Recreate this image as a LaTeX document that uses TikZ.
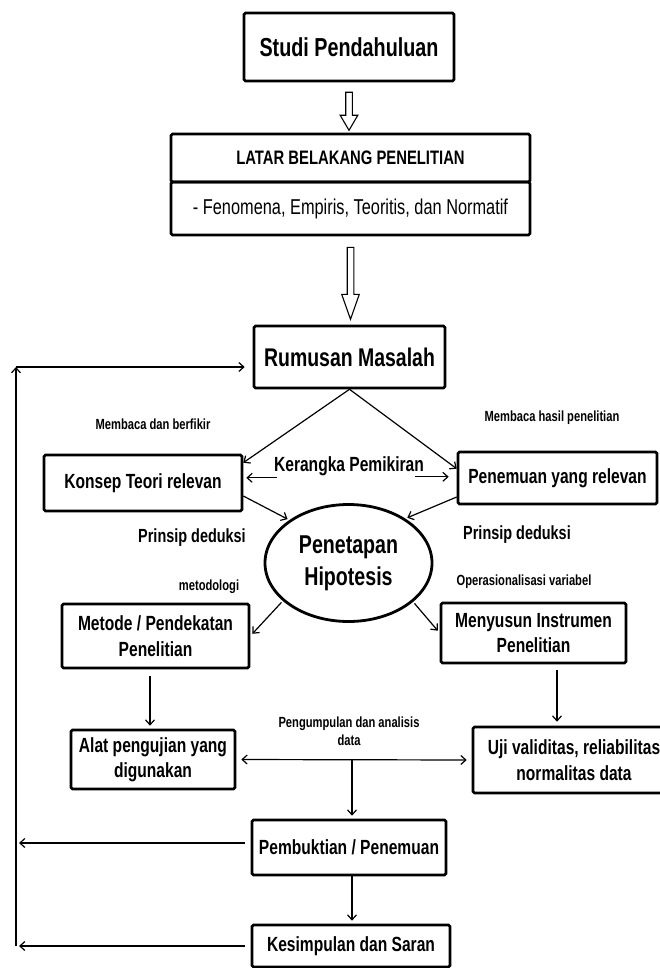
\documentclass[tikz,border=0pt]{standalone}
\usepackage{fontspec}
\newfontfamily\cf{Liberation Sans}[FakeStretch=0.76]
\usetikzlibrary{arrows.meta,shapes.geometric,calc}
\begin{document}
\begin{tikzpicture}[x=1pt,y=-1pt,
 box/.style={draw,line width=2.6pt,rounded corners=1.5pt,inner sep=0pt,align=center,font=\cf\bfseries\fontsize{20.5}{25.5}\selectfont},
 lbl/.style={inner sep=0pt,align=center,font=\cf\bfseries\fontsize{14.7}{18}\selectfont},
 arr/.style={line width=1.2pt,-{Straight Barb[length=5pt,width=9pt]}},
 hollow/.style={line width=1.1pt,fill=white,line join=miter}]
\useasboundingbox (0,0) rectangle (660,968);

% boxes
\node[box,minimum width=210pt,minimum height=68pt,font=\cf\bfseries\fontsize{26}{28}\selectfont] (studi) at (349,47) {Studi Pendahuluan};
\node[box,minimum width=359pt,minimum height=48pt,font=\cf\bfseries\fontsize{19.5}{22}\selectfont] (latar) at (350.5,158) {LATAR BELAKANG PENELITIAN};
\node[box,minimum width=359pt,minimum height=53pt,font=\cf\fontsize{21.5}{24}\selectfont] (feno) at (350.5,208.5) {- Fenomena, Empiris, Teoritis, dan Normatif};
\node[box,minimum width=191pt,minimum height=62pt,font=\cf\bfseries\fontsize{25.6}{28}\selectfont] (rum) at (349.5,357) {Rumusan Masalah};
\node[box,minimum width=198pt,minimum height=56pt] (konsep) at (143,483) {Konsep Teori relevan};
\node[box,minimum width=199pt,minimum height=52pt] (pen) at (557.5,478) {Penemuan yang relevan};
\node[inner sep=0pt,font=\cf\bfseries\fontsize{20.5}{22}\selectfont] (ker) at (349,466) {Kerangka Pemikiran};
\node[ellipse,draw,line width=2.8pt,minimum width=167pt,minimum height=117pt,inner sep=0pt,align=center,font=\cf\bfseries\fontsize{25.8}{32}\selectfont] (hip) at (348.5,563) {Penetapan\\Hipotesis};
\node[box,minimum width=187pt,minimum height=64pt] (metode) at (155.5,636) {Metode / Pendekatan\\Penelitian};
\node[box,minimum width=185pt,minimum height=60pt] (meny) at (533.5,633) {Menyusun Instrumen\\Penelitian};
\node[box,minimum width=164pt,minimum height=59pt] (alat) at (153,759.5) {Alat pengujian yang\\digunakan};
\node[box,minimum width=202pt,minimum height=66pt] (uji) at (574,760) {Uji validitas, reliabilitas\\normalitas data};
\node[box,minimum width=194pt,minimum height=55pt] (pemb) at (349,847.5) {Pembuktian / Penemuan};
\node[box,minimum width=198pt,minimum height=42pt] (kes) at (351,946) {Kesimpulan dan Saran};

% labels
\node[lbl] (l1) at (153,424) {Membaca dan berfikir};
\node[lbl] (l2) at (552,418) {Membaca hasil penelitian};
\node[lbl,font=\cf\bfseries\fontsize{19}{22}\selectfont] (l3) at (192,538) {Prinsip deduksi};
\node[lbl,font=\cf\bfseries\fontsize{19}{22}\selectfont] (l4) at (517,535) {Prinsip deduksi};
\node[lbl] (l5) at (209,587) {metodologi};
\node[lbl] (l6) at (524,582) {Operasionalisasi variabel};
\node[lbl] (l7) at (349,731) {Pengumpulan dan analisis\\data};

% hollow arrows
\draw[hollow] ($(studi.south)+(-3.3,10)$) -- ++(6.6,0) -- ++(0,23) -- ++(5.5,0) -- ++(-8.8,15) -- ++(-8.8,-15) -- ++(5.5,0) -- cycle;
\draw[hollow] ($(feno.south)+(-3.3,11)$) -- ++(6.6,0) -- ++(0,47) -- ++(5.5,0) -- ++(-8.8,25) -- ++(-8.8,-25) -- ++(5.5,0) -- cycle;

% feedback loop coordinates
\coordinate (fbtop) at (16,367);
\coordinate (fbbot) at (16,946);

% connectors
\draw[arr] (rum.south) -- ([yshift=-9pt]konsep.north east);
\draw[arr] (rum.south) -- ([yshift=-18pt]pen.north west);
\draw[arr,shorten >=3pt] ([xshift=3pt,yshift=-2pt]ker.south west) -- ([yshift=-2pt]ker.south west -| konsep.east);
\draw[arr,shorten >=8pt] ([xshift=-9pt,yshift=-1pt]ker.south east) -- ([yshift=-1pt]ker.south east -| pen.west);
\draw[arr,shorten >=2pt] ([yshift=-13pt]konsep.east) -- (hip.144);
\draw[arr,shorten >=2pt] ([yshift=-19pt]pen.west) -- (hip.38);
\draw[arr,shorten >=3pt,shorten <=2pt] (hip.210) -- (metode.east);
\draw[arr,shorten >=3pt,shorten <=2pt] (hip.329) -- (meny.west);
\draw[arr,shorten >=3pt,shorten <=7pt] ([xshift=-3pt]alat.north |- metode.south) -- ([xshift=-3pt]alat.north);
\draw[arr,shorten >=4pt,shorten <=6pt] ([xshift=23.5pt]meny.south) -- ([xshift=23.5pt]meny.south |- uji.north);
\draw[line width=1.2pt,{Straight Barb[length=5pt,width=9pt]}-{Straight Barb[length=5pt,width=9pt]},shorten >=5pt,shorten <=5pt] (alat.east) -- (uji.west);
\draw[arr,shorten >=3pt] ([xshift=3pt]pemb.north |- alat.east) -- ([xshift=3pt]pemb.north);
\draw[arr,shorten >=3pt] ([xshift=3pt]pemb.south) -- ([xshift=3pt]pemb.south |- kes.north);
\draw[arr,shorten <=6pt,shorten >=3pt] ([yshift=4.5pt]pemb.west) -- ([yshift=4.5pt]pemb.west -| fbbot);
\draw[arr,shorten <=6pt,shorten >=3pt] (kes.west) -- (kes.west -| fbbot);
\draw[arr] (fbbot) -- (fbtop);
\draw[arr,shorten >=8pt] (fbtop) -- ([yshift=-10pt]rum.west);
\end{tikzpicture}
\end{document}
